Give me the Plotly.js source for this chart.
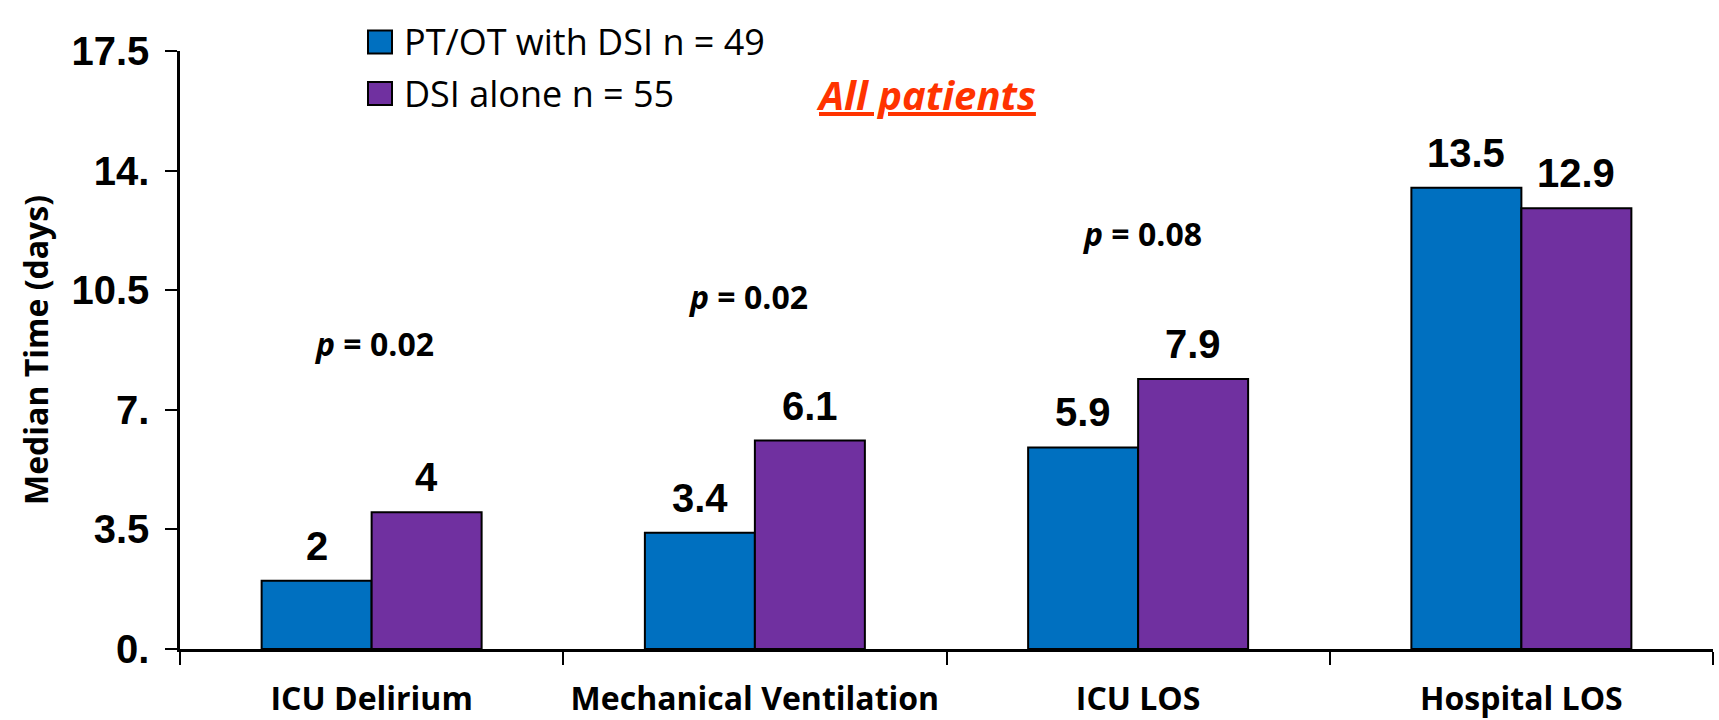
<!DOCTYPE html>
<html>
<head>
<meta charset="utf-8">
<script src="https://cdn.plot.ly/plotly-3.0.1.min.js"></script>
<style>
  html, body { margin: 0; padding: 0; background: #ffffff; }
  #chart { width: 1719px; height: 720px; }
</style>
</head>
<body>
<div id="chart"></div>
<script>
// ---- data ----
const categories = ["ICU Delirium", "Mechanical Ventilation", "ICU LOS", "Hospital LOS"];
const ptotWithDsi = [2, 3.4, 5.9, 13.5];
const dsiAlone = [4, 6.1, 7.9, 12.9];
const seriesNames = ["PT/OT with DSI n = 49", "DSI alone n = 55"];
const pValues = ["0.02", "0.02", "0.08", "0.93"];
const yTickVals = [0, 3.5, 7, 10.5, 14, 17.5];
const yTickText = ["0.", "3.5", "7.", "10.5", "14.", "17.5"];
const yAxisTitle = "Median Time (days)";
const subsetLabel = "All patients";

// ---- styling / layout helpers ----
const colors = ["#0070C0", "#7030A0"];
const pLabelY = [8.95, 10.33, 12.16, 18.3];
const pLabelXShift = [2, -7, 4, -28];
const W = 1719, H = 720;
const margin = { l: 180, r: 6, t: 51, b: 71 };
const plotW = W - margin.l - margin.r;
const plotH = H - margin.t - margin.b;
const bargap = 0.426;
const barHalf = (plotW / categories.length) * (1 - bargap) / 4;
const px2paperX = px => (px - margin.l) / plotW;
const px2paperY = py => (H - margin.b - py) / plotH;

const series = [ptotWithDsi, dsiAlone];
const traces = series.map((vals, i) => ({
  type: "bar",
  name: seriesNames[i],
  x: categories,
  y: vals,
  marker: { color: colors[i], line: { color: "#000000", width: 2 } },
  hoverinfo: "x+y+name"
}));

const annotations = [];
// value labels above bars
series.forEach((vals, i) => {
  vals.forEach((v, j) => {
    annotations.push({
      x: categories[j], y: v, xref: "x", yref: "y",
      text: String(v), showarrow: false,
      xanchor: "center", yanchor: "bottom",
      xshift: (i === 0 ? -1 : 1) * barHalf, yshift: 11,
      font: { family: "Liberation Sans, Arial, sans-serif", size: 40, color: "#000000", weight: "bold" }
    });
  });
});
// p-value labels
pValues.forEach((p, j) => {
  annotations.push({
    x: categories[j], y: pLabelY[j], xref: "x", yref: "y",
    text: "<i>p</i> = " + p, showarrow: false,
    xanchor: "center", yanchor: "middle", xshift: pLabelXShift[j],
    font: { family: "Open Sans, sans-serif", size: 32, color: "#000000", weight: "bold" }
  });
});
// subset label
annotations.push({
  x: px2paperX(925.5), y: px2paperY(95), xref: "paper", yref: "paper",
  text: "<i><u>" + subsetLabel + "</u></i>", showarrow: false,
  xanchor: "center", yanchor: "middle",
  font: { family: "Open Sans, sans-serif", size: 40, color: "#FF3300", weight: "bold" }
});
// legend (custom, larger swatches)
const legendRows = [42, 93.5];
const shapes = [];
seriesNames.forEach((name, i) => {
  const cy = legendRows[i];
  shapes.push({
    type: "rect", xref: "paper", yref: "paper",
    x0: px2paperX(368), x1: px2paperX(392),
    y0: px2paperY(cy + 11.5), y1: px2paperY(cy - 11.5),
    fillcolor: colors[i], line: { color: "#000000", width: 2 }
  });
  annotations.push({
    x: px2paperX(402), y: px2paperY(cy), xref: "paper", yref: "paper",
    text: name, showarrow: false, xanchor: "left", yanchor: "middle",
    font: { family: "Open Sans, sans-serif", size: 36, color: "#000000" }
  });
});

const layout = {
  width: W, height: H,
  margin: margin,
  paper_bgcolor: "#ffffff", plot_bgcolor: "#ffffff",
  showlegend: false,
  barmode: "group",
  bargap: bargap, bargroupgap: 0,
  xaxis: {
    type: "category",
    tickson: "boundaries",
    tickangle: 0,
    ticks: "outside", ticklen: 13, tickwidth: 2, tickcolor: "#000000",
    showline: true, linecolor: "#000000", linewidth: 3,
    showgrid: false, zeroline: false,
    ticklabelstandoff: 20,
    tickfont: { family: "Open Sans, sans-serif", size: 32, color: "#000000", weight: "bold" },
    automargin: false
  },
  yaxis: {
    range: [0, 17.5],
    tickmode: "array", tickvals: yTickVals, ticktext: yTickText,
    ticks: "outside", ticklen: 12, tickwidth: 2, tickcolor: "#000000",
    showline: true, linecolor: "#000000", linewidth: 2.5,
    showgrid: false, zeroline: false,
    ticklabelstandoff: 8,
    tickfont: { family: "Liberation Sans, Arial, sans-serif", size: 40, color: "#000000", weight: "bold" },
    title: {
      text: yAxisTitle, standoff: 14,
      font: { family: "Open Sans, sans-serif", size: 32, color: "#000000", weight: "bold" }
    },
    automargin: false
  },
  annotations: annotations,
  shapes: shapes
};

Plotly.newPlot("chart", traces, layout, { displayModeBar: false, responsive: false });
</script>
</body>
</html>
